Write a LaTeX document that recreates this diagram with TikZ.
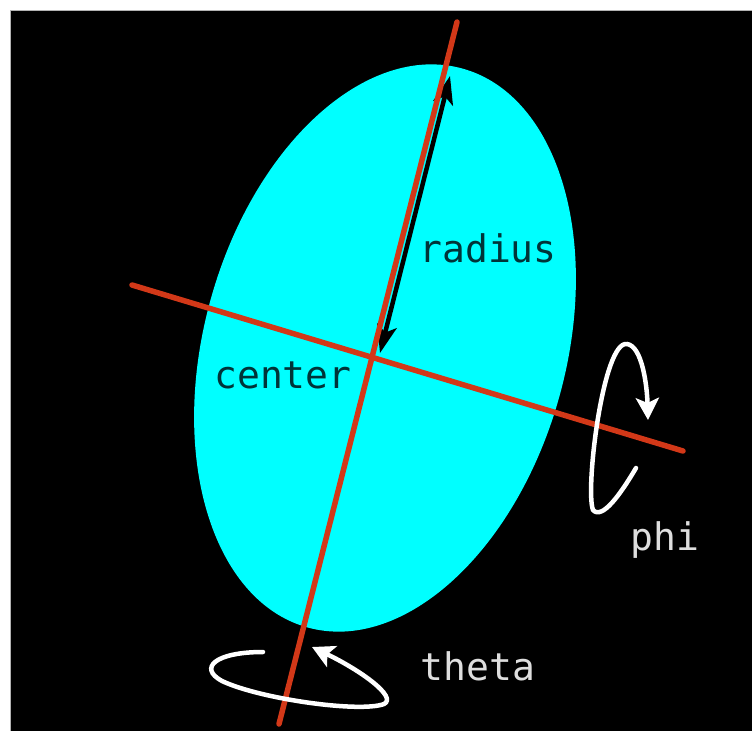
\documentclass[tikz,border=0pt]{standalone}
\usepackage{fontspec}
\newfontfamily\labelfont{DejaVu Sans Mono}
\usetikzlibrary{arrows.meta,shapes.geometric}
\definecolor{axisred}{RGB}{210,56,24}
\definecolor{fillcyan}{RGB}{0,255,255}
\definecolor{darktext}{RGB}{0,52,56}
\definecolor{lighttext}{RGB}{222,222,222}
\tikzset{
  axisline/.style={draw=axisred, line width=5.5pt, line cap=round},
  radiusarrow/.style={draw=black, line width=4.5pt,
     {Stealth[length=28pt,width=20pt,inset=7pt]}-{Stealth[length=28pt,width=20pt,inset=7pt]}},
  turnarrow/.style={draw=white, line width=4.5pt, line cap=round,
     -{Stealth[length=22pt,width=23pt,inset=5pt]}},
  lbl/.style={font=\labelfont\fontsize{38pt}{40pt}\selectfont, anchor=base, inner sep=0pt},
}
\begin{document}
\begin{tikzpicture}[x=1pt,y=-1pt]
\useasboundingbox (0,0) rectangle (752,731);
\fill[white] (0,0) rectangle (752,731);
\fill[black] (10,10) rectangle (752,731);
\draw[gray!60, line width=1pt] (10,731) -- (10,10) -- (752,10);
% ellipse
\node[ellipse, fill=fillcyan, inner sep=0pt, minimum width=362pt, minimum height=580pt, rotate=-15.5] (body) at (385,348) {};
% radius arrow
\coordinate (rc) at (380,353);
\coordinate (rt) at (450,76);
\draw[radiusarrow] (rc) -- (rt);
% axes
\coordinate (ma) at (457,22);
\coordinate (mb) at (279,724);
\coordinate (na) at (132,285);
\coordinate (nb) at (683,451);
\draw[axisline] (ma) -- (mb);
\draw[axisline] (na) -- (nb);
% phi rotation
\coordinate (ps) at (636,468);
\coordinate (pe) at (648,420);
\draw[turnarrow] (ps) .. controls (620,495) and (602,520) .. (593,510)
   .. controls (585,490) and (603,340) .. (627,344)
   .. controls (642,346) and (647,385) .. (pe);
% theta rotation
\coordinate (ts) at (263,652);
\coordinate (te) at (312,647);
\draw[turnarrow] (ts) .. controls (215,652) and (198,668) .. (222,681)
   .. controls (260,699) and (360,713) .. (384,704)
   .. controls (398,697) and (360,670) .. (te);
% labels
\node[lbl, text=darktext] (radius) at (488,262) {radius};
\node[lbl, text=darktext] (center) at (283,388) {center};
\node[lbl, text=lighttext] (phi) at (665,550) {phi};
\node[lbl, text=lighttext] (theta) at (478,680) {theta};
\end{tikzpicture}
\end{document}
